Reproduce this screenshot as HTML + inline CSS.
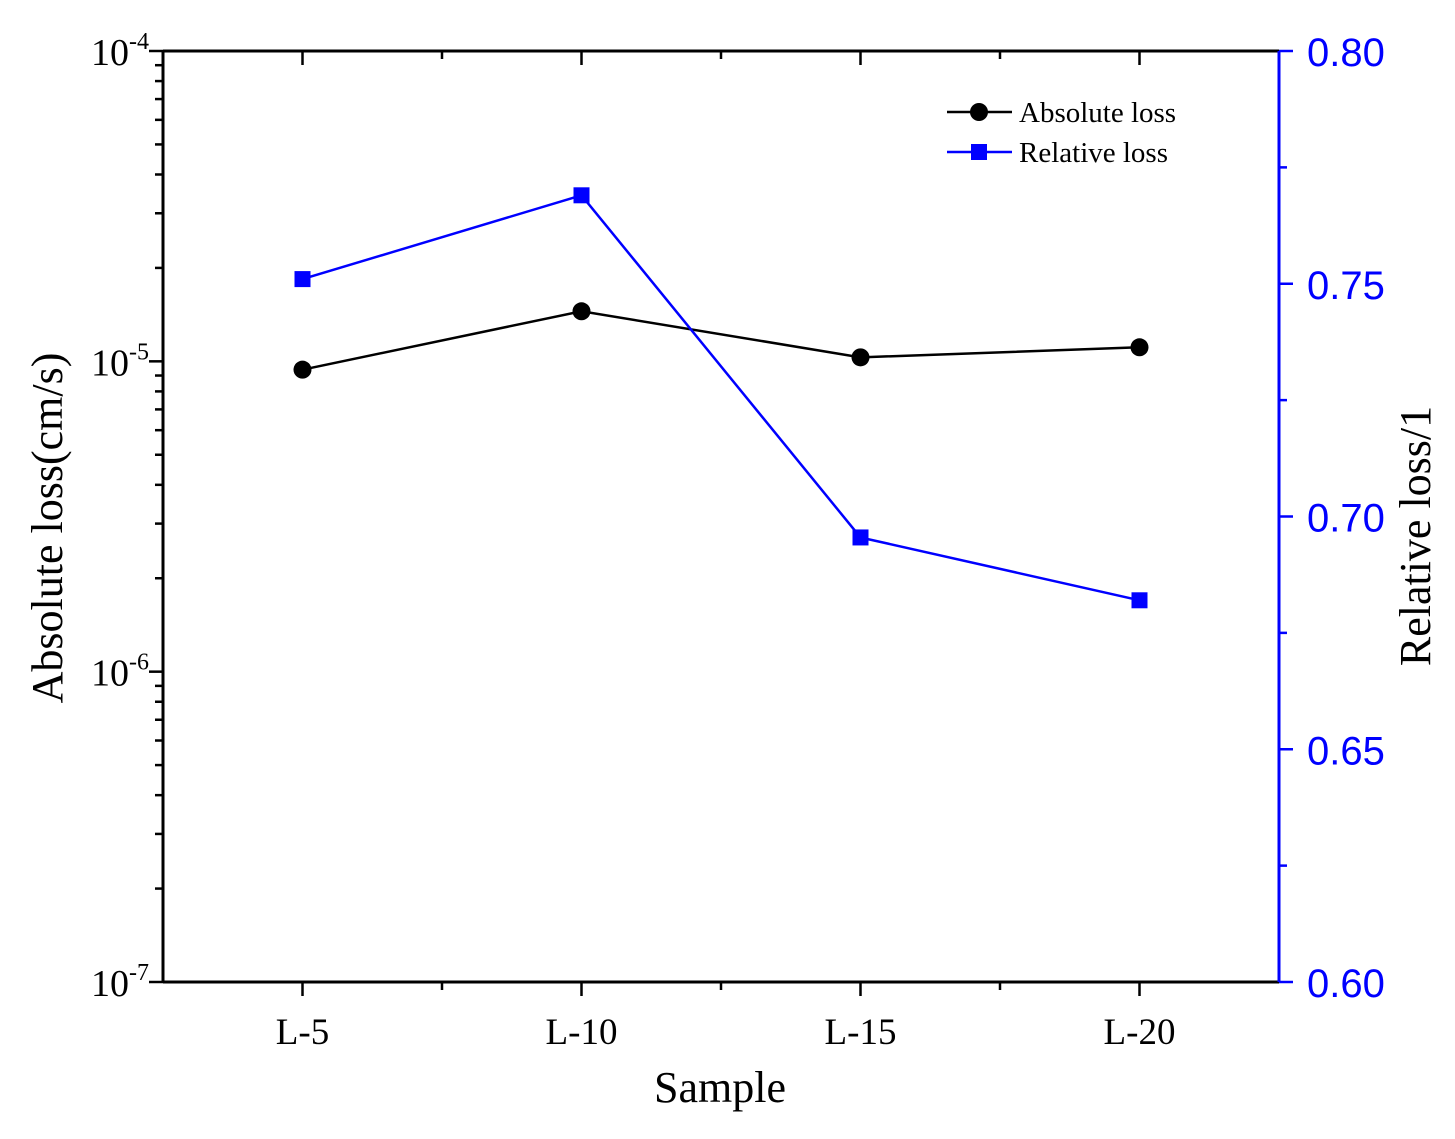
<!DOCTYPE html>
<html><head><meta charset="utf-8"><style>
body{margin:0;background:#fff;}
svg{display:block;}
</style></head><body>
<svg id="chart" width="1455" height="1139" viewBox="0 0 1455 1139">
<rect width="1455" height="1139" fill="#fff"/>
<g id="axes"></g>
<g id="marks"></g>
</svg>
<script>
const categories=["L-5","L-10","L-15","L-20"];
const absoluteLoss=[9.4e-6,1.45e-5,1.03e-5,1.11e-5];
const relativeLoss=[0.751,0.769,0.6955,0.682];
const leftTicks=[-7,-6,-5,-4];
const rightTicks=["0.60","0.65","0.70","0.75","0.80"];

const L=163,R=1279,T=51,B=982;
const NS="http://www.w3.org/2000/svg";
const xS=i=>L+(i+0.5)/categories.length*(R-L);
const yAbs=v=>B-(Math.log10(v)+7)/3*(B-T);
const yRel=v=>B-(v-0.6)/0.2*(B-T);
const axes=document.getElementById('axes'),marks=document.getElementById('marks');
function mk(tag,attrs,parent,text){const e=document.createElementNS(NS,tag);for(const k in attrs)e.setAttribute(k,attrs[k]);if(text!==undefined)e.textContent=text;parent.appendChild(e);return e;}
const serif='"Liberation Serif", serif', sans='"Liberation Sans", sans-serif';

let e;
e=mk('line',{x1:L,y1:T,x2:R,y2:T,stroke:'#000','stroke-width':3},axes);


e=mk('line',{x1:L,y1:B,x2:R,y2:B,stroke:'#000','stroke-width':3},axes);


e=mk('line',{x1:L,y1:T,x2:L,y2:B,stroke:'#000','stroke-width':3},axes);


e=mk('line',{x1:R,y1:T,x2:R,y2:B,stroke:'#0000ff','stroke-width':3},axes);



for(let i=1;i<categories.length*2;i++){
  const x=L+i/(categories.length*2)*(R-L);
  const major=i%2===1;
  mk('line',{x1:x,y1:B,x2:x,y2:B+(major?14:8),stroke:'#000','stroke-width':2.5},axes);
  mk('line',{x1:x,y1:T,x2:x,y2:T+(major?14:8),stroke:'#000','stroke-width':2.5},axes);
}
categories.forEach((c,i)=>{
  e=mk('text',{x:xS(i),y:B+62,'text-anchor':'middle','font-family':serif,'font-size':37,fill:'#000'},axes,c);
  
  
});
leftTicks.forEach(p=>{
  const y=B-(p+7)/3*(B-T);
  mk('line',{x1:L-14,y1:y,x2:L,y2:y,stroke:'#000','stroke-width':2.5},axes);
  e=mk('text',{x:L-14,y:y+14,'text-anchor':'end','font-family':serif,'font-size':38,fill:'#000'},axes);
  
  
  e.innerHTML='10<tspan dy="-16" font-size="24">'+p+'</tspan>';
  if(p<-4){for(let m=2;m<=9;m++){const ym=yAbs(m*Math.pow(10,p));mk('line',{x1:L-8,y1:ym,x2:L,y2:ym,stroke:'#000','stroke-width':2.5},axes);}}
});
rightTicks.forEach((t,i)=>{
  const y=yRel(+t);
  mk('line',{x1:R,y1:y,x2:R+14,y2:y,stroke:'#0000ff','stroke-width':2.5},axes);
  if(i<rightTicks.length-1){const ym=yRel(+t+0.025);mk('line',{x1:R,y1:ym,x2:R+8,y2:ym,stroke:'#0000ff','stroke-width':2.5},axes);}
  e=mk('text',{x:R+28,y:y+15,'font-family':sans,'font-size':40,fill:'#0000ff'},axes,t);
  
  
});
e=mk('text',{x:720,y:1102,'text-anchor':'middle','font-family':serif,'font-size':44,fill:'#000'},axes,'Sample');


e=mk('text',{x:0,y:0,'text-anchor':'middle','font-family':serif,'font-size':44,fill:'#000',transform:'translate(62,528) rotate(-90)'},axes,'Absolute loss(cm/s)');


e=mk('text',{x:0,y:0,'text-anchor':'middle','font-family':serif,'font-size':44,fill:'#000',transform:'translate(1430,536) rotate(-90)'},axes,'Relative loss/1');



e=mk('polyline',{points:absoluteLoss.map((v,i)=>xS(i)+','+yAbs(v)).join(' '),fill:'none',stroke:'#000','stroke-width':2.5},marks);


e=mk('polyline',{points:relativeLoss.map((v,i)=>xS(i)+','+yRel(v)).join(' '),fill:'none',stroke:'#0000ff','stroke-width':2.5},marks);


absoluteLoss.forEach((v,i)=>{
  e=mk('circle',{cx:xS(i),cy:yAbs(v),r:9,fill:'#000'},marks);
  
  
});
relativeLoss.forEach((v,i)=>{
  e=mk('rect',{x:xS(i)-8,y:yRel(v)-8,width:16,height:16,fill:'#0000ff'},marks);
  
  
});

e=mk('g',{},marks);


const lg=e;
mk('line',{x1:947,y1:112,x2:1012,y2:112,stroke:'#000','stroke-width':2.5},lg);
mk('circle',{cx:979,cy:112,r:9,fill:'#000'},lg);
e=mk('text',{x:1019,y:122,'font-family':serif,'font-size':29,fill:'#000'},lg,'Absolute loss');


mk('line',{x1:947,y1:152,x2:1012,y2:152,stroke:'#0000ff','stroke-width':2.5},lg);
mk('rect',{x:971,y:144,width:16,height:16,fill:'#0000ff'},lg);
e=mk('text',{x:1019,y:162,'font-family':serif,'font-size':29,fill:'#000'},lg,'Relative loss');


</script>
</body></html>
